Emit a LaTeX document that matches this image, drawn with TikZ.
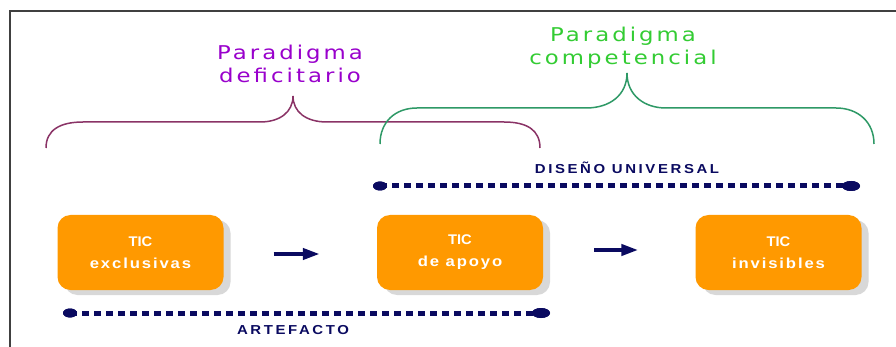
\documentclass[tikz,border=0pt]{standalone}
\usepackage{fontspec}
\setmainfont{Liberation Sans}
\usetikzlibrary{arrows.meta,shadows,shapes.geometric}
\newfontfamily\parafont[FakeStretch=1.2,LetterSpace=16]{DejaVu Sans}
\newfontfamily\boxfont[FakeStretch=1.05]{Liberation Sans}
\newfontfamily\boxfontw[FakeStretch=1.15,LetterSpace=13]{Liberation Sans}
\newfontfamily\labfont[FakeStretch=1.15,LetterSpace=20]{Liberation Sans}
\definecolor{orng}{HTML}{FF9900}
\definecolor{shad}{HTML}{D8D8D8}
\definecolor{navy}{HTML}{0A0A60}
\definecolor{purp}{HTML}{9900CC}
\definecolor{grn}{HTML}{33CC33}
\definecolor{maroonb}{HTML}{8A3366}
\definecolor{greenb}{HTML}{2E9966}
\definecolor{framec}{HTML}{404040}
\newcommand\boxtext[2]{{\boxfont\bfseries\fontsize{14}{22}\selectfont #1}\\{\boxfontw\bfseries\fontsize{14.5}{22}\selectfont #2}}
\tikzset{
  ticbox/.style={fill=orng, rounded corners=13pt, minimum width=166pt, minimum height=75pt,
    inner sep=0pt, text=white, align=center,
    font=\fontsize{14}{22}\selectfont,
    drop shadow={shadow xshift=7pt, shadow yshift=-5pt, fill=shad, opacity=1}},
  flowarrow/.style={navy, line width=4pt, -{Triangle[length=17pt,width=11pt]}},
  dotline/.style={navy, line width=5pt, dash pattern=on 6.5pt off 5.5pt},
  endsmall/.style={ellipse, fill=navy, minimum width=14pt, minimum height=9pt, inner sep=0pt},
  endbig/.style={ellipse, fill=navy, minimum width=18pt, minimum height=10pt, inner sep=0pt},
  navylabel/.style={navy, font=\labfont\bfseries\fontsize{13}{15}\selectfont, anchor=base},
  paralabel/.style={font=\parafont\fontsize{19}{23}\selectfont, align=center, anchor=base},
  bracel/.style={line width=1.5pt}
}
\begin{document}
\begin{tikzpicture}[x=1pt,y=-1pt]
\useasboundingbox (0,0) rectangle (896,347);
\fill[white] (0,0) rectangle (896,347);
\draw[framec, line width=2pt] (10,347) -- (10,11) -- (896,11);

% braces
\draw[bracel, maroonb] (46,148) .. controls (46,130) and (60,122) .. (83,122) -- (260,122)
  .. controls (280,122) and (293,112) .. (293,96)
  .. controls (293,112) and (306,122) .. (327,122) -- (504,122)
  .. controls (527,122) and (540,130) .. (540,148);
\draw[bracel, greenb] (380,144) .. controls (380,122) and (395,108) .. (417,108) -- (586,108)
  .. controls (610,108) and (627,95) .. (627,73)
  .. controls (627,95) and (644,108) .. (666,108) -- (836,108)
  .. controls (858,108) and (874,122) .. (874,144);

\node[paralabel, text=purp] (pd) at (290,83) {Paradigma\\deficitario};
\node[paralabel, text=grn] (pc) at (623,65) {Paradigma\\competencial};

% boxes
\node[ticbox] (b1) at (140.5,252.5) {\boxtext{TIC}{exclusivas}};
\node[ticbox] (b2) at (460,252.5) {\boxtext{TIC}{de apoyo}};
\node[ticbox] (b3) at (778.5,252.5) {\boxtext{TIC}{invisibles}};

\draw[flowarrow, shorten <=50pt, shorten >=57pt] ([yshift=-1.5pt]b1.east) -- ([yshift=-1.5pt]b2.west);
\draw[flowarrow, shorten <=51pt, shorten >=57pt] ([yshift=2.5pt]b2.east) -- ([yshift=2.5pt]b3.west);

% dotted spans
\node[endsmall] (du1) at (380,186) {};
\node[endbig] (du2) at (851,186) {};
\draw[dotline] (du1.center) -- (du2.center);
\node[endsmall] at (du1) {};
\node[endbig] at (du2) {};
\node[navylabel] (dul) at (627,174) {DISEÑO UNIVERSAL};

\node[endsmall] (ar1) at (70,313) {};
\node[endbig] (ar2) at (541,313) {};
\draw[dotline] (ar1.center) -- (ar2.center);
\node[endsmall] at (ar1) {};
\node[endbig] at (ar2) {};
\node[navylabel] (arl) at (293,334) {ARTEFACTO};
\end{tikzpicture}
\end{document}
